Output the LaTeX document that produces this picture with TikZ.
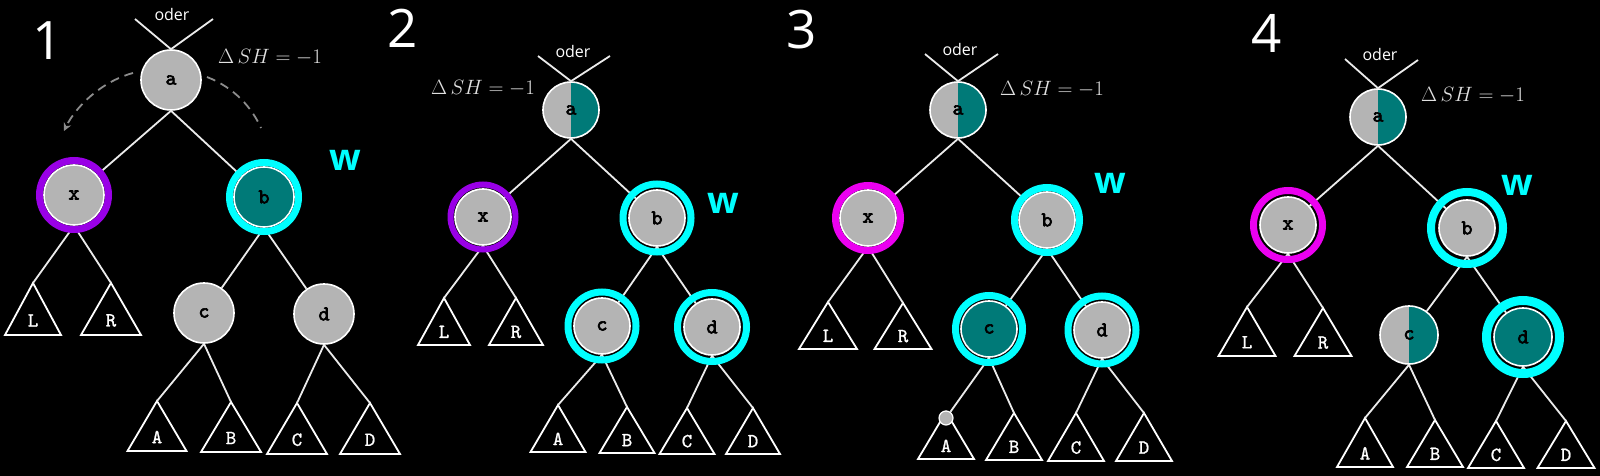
\documentclass[tikz,border=0pt]{standalone}
\usepackage[no-math]{fontspec}
\newfontfamily\osans{Open Sans}
\newfontfamily\nodefont{lmmono10-regular.otf}[FakeBold=3]
\newfontfamily\trifont{lmmono10-regular.otf}[FakeBold=1]
\usetikzlibrary{arrows.meta}
\definecolor{ngray}{RGB}{180,180,180}
\definecolor{tealc}{RGB}{0,122,120}
\definecolor{cyanc}{RGB}{0,255,255}
\definecolor{purp}{RGB}{153,0,230}
\definecolor{magc}{RGB}{235,0,240}
\definecolor{dgray}{RGB}{140,140,140}
\definecolor{mtxt}{RGB}{225,225,225}
\newcommand\mysubtree[6]{%
  \coordinate (#1) at (#2,#3);
  \draw[tri] (#1) -- ++(-#4,#5) -- ++(2*#4,0) -- cycle;
  \node[trilabel] (#1l) at (#2,#3+0.72*#5) {#6};
}
\tikzset{
  tn/.style={circle, inner sep=0pt, minimum size=#1, fill=ngray, draw=white, line width=1.6pt,
    font=\nodefont\fontsize{21}{21}\selectfont, text=black},
  tn/.default=56,
  halfn/.style={path picture={\fill[tealc] (path picture bounding box.north) rectangle (path picture bounding box.south east);}},
  tealn/.style={fill=tealc},
  edge/.style={draw=white!92!black, line width=1.8pt},
  tri/.style={draw=white, line width=1.8pt, line join=miter},
  trilabel/.style={text=white, font=\trifont\fontsize{20}{20}\selectfont, inner sep=0pt},
  numlbl/.style={text=white, font=\osans\fontsize{53}{53}\selectfont},
  oderlbl/.style={text=white, font=\osans\fontsize{16}{16}\selectfont},
  shlbl/.style={text=mtxt, font=\fontsize{20}{20}\selectfont},
  wlbl/.style={text=cyanc, font=\osans\bfseries\fontsize{37}{37}\selectfont},
  ring/.style={line width=#1},
  dasharc/.style={draw=dgray, line width=1.8pt, dash pattern=on 9pt off 6pt},
  dotn/.style={circle, inner sep=0pt, minimum size=14, fill=ngray, draw=white, line width=1.2pt}
}
\begin{document}
\begin{tikzpicture}[x=1pt,y=-1pt]
\fill[black] (0,0) rectangle (1600,476);
\useasboundingbox (0,0) rectangle (1600,476);

% ---------------- Panel 1
\node[numlbl] (n1) at (48,41) {1};
\node[oderlbl] (o1) at (172,15) {oder};
\node[shlbl] (s1) at (270,57) {$\Delta\,SH=-1$};
\node[tn=60] (p1a) at (171,80) {a};
\node[tn=60] (p1x) at (74,195) {x};
\node[tn=60,tealn] (p1b) at (264,197) {b};
\node[tn=60] (p1c) at (204,313) {c};
\node[tn=60] (p1d) at (324,314) {d};
\node[wlbl] (w1) at (345,160) {w};
\coordinate (p1ul) at (135,19); \coordinate (p1ur) at (213,19);
\draw[edge] (p1ul) -- (p1a.north) -- (p1ur);
\mysubtree{p1L}{33}{283}{28}{52}{L}
\mysubtree{p1R}{111}{283}{30}{52}{R}
\mysubtree{p1A}{157}{401}{29.5}{50}{A}
\mysubtree{p1B}{231}{402}{30}{50}{B}
\mysubtree{p1C}{297}{403}{30}{51}{C}
\mysubtree{p1D}{370}{403}{30}{51}{D}
\draw[edge] (p1a.south) -- (p1x);
\draw[edge] (p1a.south) -- (p1b);
\draw[edge] (p1x.south) -- (p1L);
\draw[edge] (p1x.south) -- (p1R);
\draw[edge] (p1b.south) -- (p1c);
\draw[edge] (p1b.south) -- (p1d);
\draw[edge] (p1c.south) -- (p1A);
\draw[edge] (p1c.south) -- (p1B);
\draw[edge] (p1d.south) -- (p1C);
\draw[edge] (p1d.south) -- (p1D);
\draw[purp, ring=7pt] (p1x.center) circle[radius=34.5];
\draw[cyanc, ring=7pt] (p1b.center) circle[radius=34.5];
\coordinate (p1l1) at (133,73); \coordinate (p1l2) at (64,131);
\coordinate (p1r1) at (207,77); \coordinate (p1r2) at (261,128);
\draw[dasharc, -{Stealth[length=8pt,width=8pt]}] (p1l1) .. controls (100,82) and (75,108) .. (p1l2);
\draw[dasharc] (p1r1) .. controls (235,88) and (252,108) .. (p1r2);

% ---------------- Panel 2
\node[numlbl] (n2) at (403,28) {2};
\node[oderlbl] (o2) at (573,52) {oder};
\node[shlbl] (s2) at (483,88) {$\Delta\,SH=-1$};
\node[tn=56,halfn] (p2a) at (571,110) {a};
\node[tn=56] (p2x) at (483,217) {x};
\node[tn=56] (p2b) at (657,218) {b};
\node[tn=56] (p2c) at (602,326) {c};
\node[tn=56] (p2d) at (712,327) {d};
\node[wlbl] (w2) at (723,203) {w};
\coordinate (p2ul) at (538,56); \coordinate (p2ur) at (610,56);
\draw[edge] (p2ul) -- (p2a.north) -- (p2ur);
\mysubtree{p2L}{444}{298}{26}{47}{L}
\mysubtree{p2R}{516}{298}{27}{47}{R}
\mysubtree{p2A}{558}{405}{27.5}{47}{A}
\mysubtree{p2B}{627}{407}{27.5}{46}{B}
\mysubtree{p2C}{687}{408}{27.5}{46}{C}
\mysubtree{p2D}{753}{408}{27}{46}{D}
\draw[edge] (p2a.south) -- (p2x);
\draw[edge] (p2a.south) -- (p2b);
\draw[edge] (p2x.south) -- (p2L);
\draw[edge] (p2x.south) -- (p2R);
\draw[edge] (p2b.south) -- (p2c);
\draw[edge] (p2b.south) -- (p2d);
\draw[edge] (p2c.south) -- (p2A);
\draw[edge] (p2c.south) -- (p2B);
\draw[edge] (p2d.south) -- (p2C);
\draw[edge] (p2d.south) -- (p2D);
\draw[purp, ring=6pt] (p2x.center) circle[radius=32.5];
\draw[cyanc, ring=7pt] (p2b.center) circle[radius=34];
\draw[cyanc, ring=7pt] (p2c.center) circle[radius=34];
\draw[cyanc, ring=7pt] (p2d.center) circle[radius=34.5];

% ---------------- Panel 3
\node[numlbl] (n3) at (802,30) {3};
\node[oderlbl] (o3) at (960,50) {oder};
\node[shlbl] (s3) at (1052,89) {$\Delta\,SH=-1$};
\node[tn=56,halfn] (p3a) at (958,110) {a};
\node[tn=56] (p3x) at (868,218) {x};
\node[tn=56] (p3b) at (1047,220) {b};
\node[tn=56,tealn] (p3c) at (989,329) {c};
\node[tn=56] (p3d) at (1102,330) {d};
\node[wlbl] (w3) at (1110,183) {w};
\coordinate (p3ul) at (925,54); \coordinate (p3ur) at (998,54);
\draw[edge] (p3ul) -- (p3a.north) -- (p3ur);
\mysubtree{p3L}{828}{302}{29}{47}{L}
\mysubtree{p3R}{903}{303}{28.5}{46}{R}
\mysubtree{p3A}{946}{412}{28}{47}{A}
\mysubtree{p3B}{1014}{413}{28}{47}{B}
\mysubtree{p3C}{1076}{413}{28}{48}{C}
\mysubtree{p3D}{1144}{413}{28}{48}{D}
\node[dotn] (p3dot) at (946,418) {};
\draw[edge] (p3a.south) -- (p3x);
\draw[edge] (p3a.south) -- (p3b);
\draw[edge] (p3x.south) -- (p3L);
\draw[edge] (p3x.south) -- (p3R);
\draw[edge] (p3b.south) -- (p3c);
\draw[edge] (p3b.south) -- (p3d);
\draw[edge] (p3c.south) -- (p3dot);
\draw[edge] (p3c.south) -- (p3B);
\draw[edge] (p3d.south) -- (p3C);
\draw[edge] (p3d.south) -- (p3D);
\draw[magc, ring=7pt] (p3x.center) circle[radius=32.5];
\draw[cyanc, ring=7pt] (p3b.center) circle[radius=32.5];
\draw[cyanc, ring=7pt] (p3c.center) circle[radius=33.5];
\draw[cyanc, ring=7pt] (p3d.center) circle[radius=34];

% ---------------- Panel 4
\node[numlbl] (n4) at (1267,33) {4};
\node[oderlbl] (o4) at (1380,55) {oder};
\node[shlbl] (s4) at (1473,95) {$\Delta\,SH=-1$};
\node[tn=56,halfn] (p4a) at (1378,117) {a};
\node[tn=56] (p4x) at (1288,225) {x};
\node[tn=56] (p4b) at (1467,228) {b};
\node[tn=58,halfn] (p4c) at (1409,335) {c};
\node[tn=58,tealn] (p4d) at (1523,337) {d};
\node[wlbl] (w4) at (1517,185) {w};
\coordinate (p4ul) at (1345,59); \coordinate (p4ur) at (1418,60);
\draw[edge] (p4ul) -- (p4a.north) -- (p4ur);
\mysubtree{p4L}{1247}{307}{28.5}{49}{L}
\mysubtree{p4R}{1323}{308}{28.5}{48}{R}
\mysubtree{p4A}{1365}{418}{28}{49}{A}
\mysubtree{p4B}{1435}{420}{28}{47}{B}
\mysubtree{p4C}{1496}{421}{28}{47}{C}
\mysubtree{p4D}{1566}{421}{28.5}{47}{D}
\draw[edge] (p4a.south) -- (p4x);
\draw[edge] (p4a.south) -- (p4b);
\draw[edge] (p4x.south) -- (p4L);
\draw[edge] (p4x.south) -- (p4R);
\draw[edge] (p4b.south) -- (p4c);
\draw[edge] (p4b.south) -- (p4d);
\draw[edge] (p4c.south) -- (p4A);
\draw[edge] (p4c.south) -- (p4B);
\draw[edge] (p4d.south) -- (p4C);
\draw[edge] (p4d.south) -- (p4D);
\draw[magc, ring=7pt] (p4x.center) circle[radius=34.5];
\draw[cyanc, ring=8pt] (p4b.center) circle[radius=36];
\draw[cyanc, ring=9pt] (p4d.center) circle[radius=36.5];
\end{tikzpicture}
\end{document}
